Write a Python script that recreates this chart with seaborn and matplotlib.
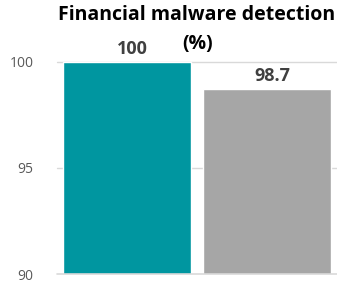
import matplotlib
matplotlib.use("Agg")
from matplotlib import pyplot as plt
import seaborn as sns

categories = ["A", "B"]
values = [100, 98.7]
labels = ["100", "98.7"]
bar_colors = ["#0096A0", "#A6A6A6"]

sns.set_style("white")
plt.rcParams['font.family'] = ['Open Sans', 'DejaVu Sans']

fig = plt.figure(figsize=(3.37, 2.84), dpi=100)
ax = fig.add_axes([0.169, 0.035, 0.831, 0.747])

sns.barplot(x=categories, y=values, hue=categories, palette=bar_colors,
            width=0.92, legend=False, ax=ax, saturation=1, zorder=2)

ax.set_ylim(90, 100)
ax.set_xlim(-0.5, 1.5)
ax.set_yticks([90, 95, 100])
ax.tick_params(axis='y', length=0, labelsize=10, colors='#595959', pad=17)
ax.set_xticks([])
ax.set_xlabel('')
ax.set_ylabel('')

for y in [95, 100]:
    ax.axhline(y, color='#D9D9D9', lw=1, zorder=1, clip_on=False)
ax.axhline(90, color='#D9D9D9', lw=1.2, zorder=3, clip_on=False)

for spine in ax.spines.values():
    spine.set_visible(False)

for i, (v, t) in enumerate(zip(values, labels)):
    ax.text(i + 0.04, v + 0.2, t, ha='center', va='bottom', fontsize=13,
            fontweight='bold', color='#404040', clip_on=False)

# title in two lines, centred over the plot area
fig.text(0.582, 0.947, "Financial malware detection", ha='center', va='center',
         fontsize=14, fontweight='bold', color='black')
fig.text(0.585, 0.845, "(%)", ha='center', va='center',
         fontsize=14, fontweight='bold', color='black')

fig.savefig("out.png", dpi=100)
plt.close(fig)
